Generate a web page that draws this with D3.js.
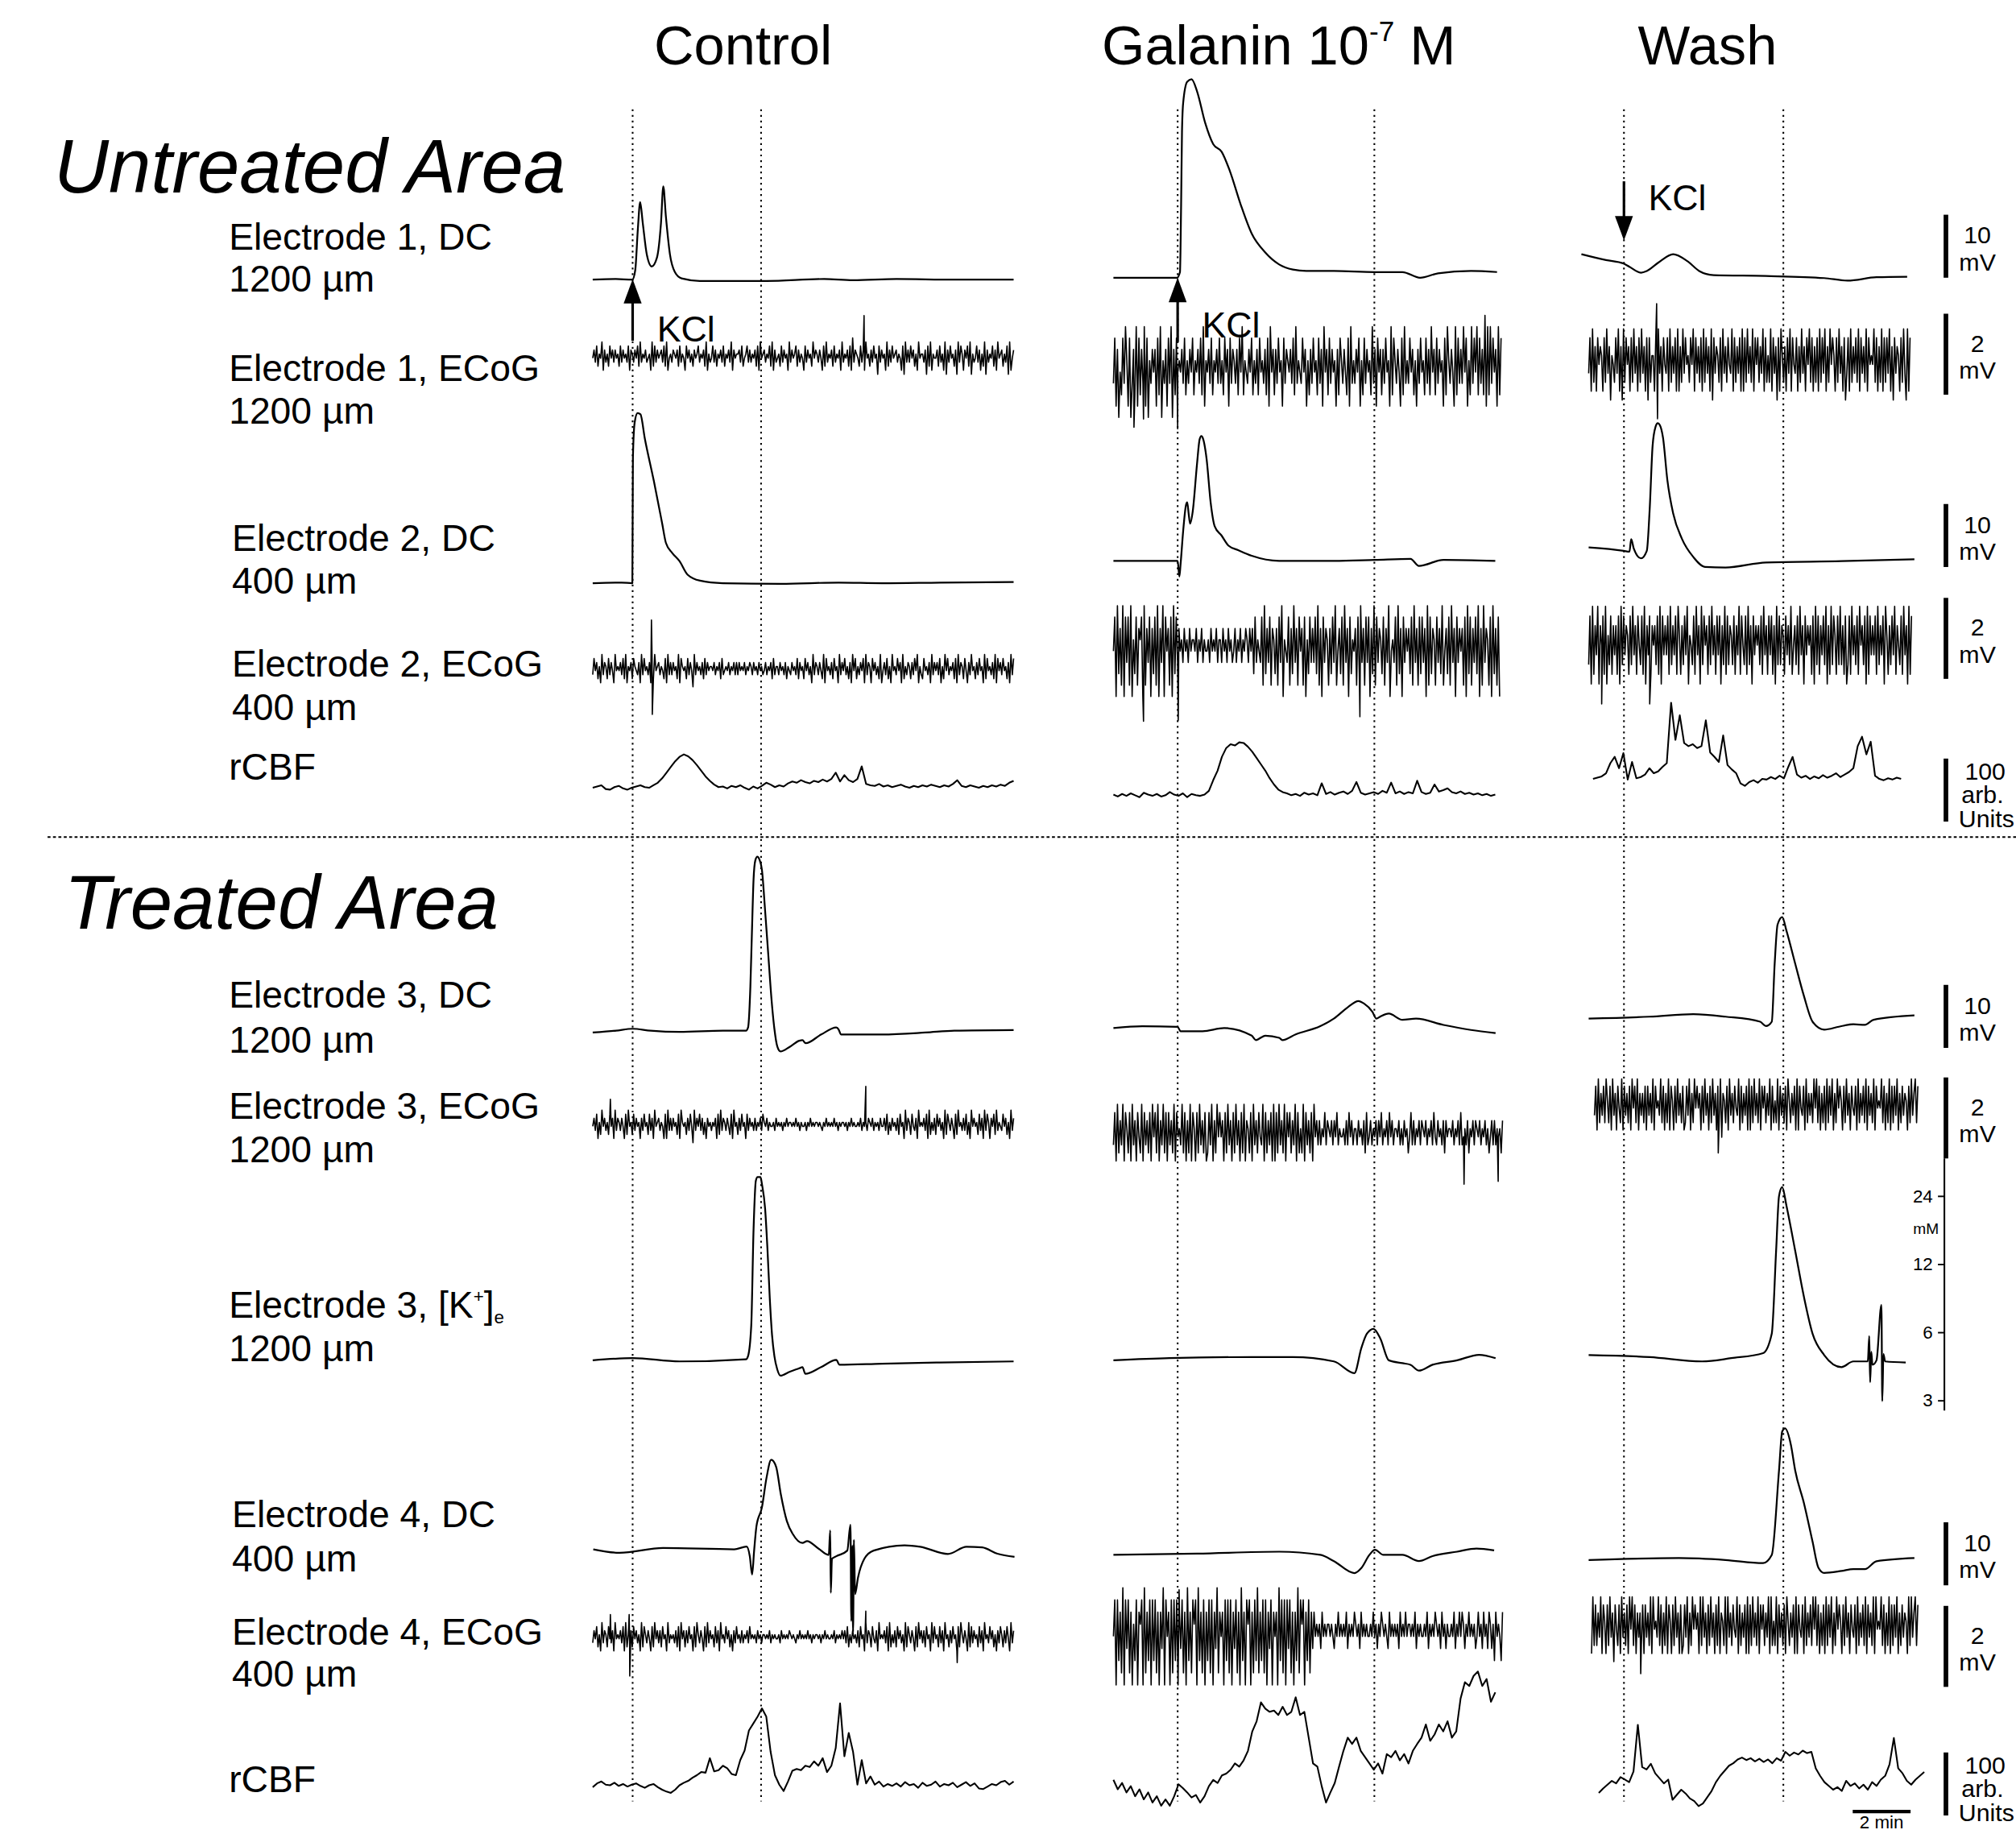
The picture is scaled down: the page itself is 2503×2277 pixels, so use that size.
<!DOCTYPE html>
<html>
<head>
<meta charset="utf-8">
<script src="https://cdn.jsdelivr.net/npm/d3@7"></script>
<style>
  body { margin: 0; background: #fff; }
  text { font-family: "Liberation Sans", Arial, Helvetica, sans-serif; fill: #000; }
</style>
</head>
<body>
<div id="chart"></div>
<script>
var width = 2503;
var height = 2277;
var K = width / 1568;   // layout below is written on a 1568-wide grid

// ---------------- data ----------------
// time in minutes from the left edge of each column; DC in mV; ECoG as digit strings
// (digit - 4.5) * gain mV; rCBF in arb. units; [K+]e in mM

var kclTimes = [1.38, 2.22, 1.47];
var sdTimes = [5.82, 9.02, 6.98];

var e1dcControl = [[0,0],[0.8,0.1],[1.37,0],[1.47,1.5],[1.56,8],[1.64,12.3],[1.73,9],[1.87,4],[2.04,2.1],[2.22,3.5],[2.36,9],[2.44,14.8],[2.53,10],[2.67,4],[2.84,1.2],[3.07,0.2],[3.7,-0.2],[6,-0.2],[8,0.1],[9,-0.1],[10.5,0.1],[12.5,0],[14.55,0]];
var e1dcGalanin = [[0,0],[2.2,0],[2.3,0.9],[2.34,11.6],[2.37,23.1],[2.41,27.7],[2.55,31.1],[2.7,31.5],[2.89,29.6],[3.17,24.6],[3.45,21.2],[3.74,20],[4.02,17],[4.4,11.6],[4.78,7],[5.25,4],[5.73,2.1],[6.2,1.3],[6.67,1.07],[7.62,1.07],[9.04,0.9],[9.99,0.9],[10.6,0],[11.22,0.7],[12.36,1.07],[13.26,0.9]];
var e1dcWash = [[0,3.6],[0.85,2.66],[1.46,2.1],[1.66,1.6],[2.06,0.66],[2.26,0.93],[2.66,2.26],[3.17,3.59],[3.67,2.46],[4.07,0.93],[4.57,0.27],[6.38,0.13],[8.39,-0.2],[9.2,-0.6],[10.2,-0.07],[11.26,0]];

var e2dcControl = [[0,0],[1.0,0.1],[1.37,0],[1.39,20],[1.45,25.5],[1.55,27],[1.65,26.8],[1.8,23],[2.11,16.3],[2.4,9.5],[2.53,6.4],[2.75,4.8],[3.0,3.5],[3.28,1.35],[3.71,0.4],[4.5,0],[6.5,-0.1],[8.5,0.1],[10,0],[12,0.1],[14.55,0.2]];
var e2dcGalanin = [[0,0],[2.22,0],[2.28,-2.5],[2.32,-0.6],[2.41,4.7],[2.51,8.9],[2.55,9.3],[2.6,7.5],[2.65,5.9],[2.74,7.8],[2.89,15.4],[2.98,19.3],[3.04,19.8],[3.08,19.6],[3.22,16.2],[3.36,9.3],[3.5,5.5],[3.74,4],[3.98,2.4],[4.31,1.7],[4.78,0.8],[5.73,0],[7.62,0],[9.04,0.15],[10.27,0.3],[10.56,-0.8],[11.41,0.15],[13.2,0]];
var e2dcWash = [[0.25,1.9],[1.46,1.35],[1.66,1.2],[1.72,3.2],[1.81,1.7],[2.06,0.15],[2.26,1.35],[2.36,8],[2.46,18],[2.56,21],[2.64,21.6],[2.71,21.3],[2.82,19.3],[2.97,12.6],[3.17,7.3],[3.47,3.3],[3.87,0.35],[4.27,-1.2],[4.98,-1.3],[6.38,-0.5],[8.99,-0.3],[11.51,0]];

var e3dcControl = [[0,-0.3],[0.8,0],[1.38,0.3],[2,0],[3,-0.2],[4.5,0],[5.3,0],[5.37,0.5],[5.45,7],[5.5,15],[5.56,24],[5.62,27],[5.69,27.6],[5.76,27.2],[5.85,25.5],[5.96,19],[6.07,12],[6.18,5],[6.28,0.3],[6.38,-2.5],[6.49,-3.3],[6.8,-2.6],[7.14,-1.6],[7.25,-1.5],[7.36,-2],[7.9,-0.6],[8.42,0.5],[8.5,0.2],[8.58,-0.6],[10,-0.6],[11.5,-0.3],[12.5,0],[14.55,0.1]];
var e3dcGalanin = [[0,0],[1.0,0.3],[2.22,0.2],[2.32,-0.5],[3.08,-0.5],[3.83,0],[4.78,-1.2],[4.92,-1.9],[5.25,-1.2],[5.73,-1.55],[5.84,-1.9],[6.3,-1.0],[7.15,0.3],[7.62,1.5],[8.1,3.3],[8.47,4.3],[8.66,3.9],[8.95,2.6],[9.09,1.5],[9.23,1.85],[9.52,2.3],[9.99,1.3],[10.46,1.5],[11.41,0.5],[12.36,-0.3],[13.21,-0.8]];
var e3dcWash = [[0.25,0],[2.36,0.3],[3.87,0.7],[4.98,0.3],[6.18,-0.5],[6.38,-1.2],[6.58,-0.5],[6.68,8.7],[6.78,14.9],[6.94,16.1],[7.09,13.9],[7.39,8.7],[7.69,3.6],[7.99,-0.5],[8.39,-1.75],[8.9,-1.3],[9.4,-0.9],[9.8,-1.0],[10.1,-0.2],[11.51,0.5]];

var kControl = [[0,4.5],[1.38,4.6],[3,4.45],[5.3,4.55],[5.37,4.7],[5.48,6.4],[5.56,17],[5.64,28],[5.7,29],[5.8,29],[5.85,27],[5.96,21],[6.04,14],[6.12,8.5],[6.2,5.8],[6.28,4.7],[6.38,4.1],[6.49,3.85],[6.8,4.0],[7.14,4.15],[7.25,4.2],[7.35,3.92],[7.9,4.2],[8.42,4.52],[8.53,4.3],[10,4.35],[12,4.4],[14.55,4.45]];
var kGalanin = [[0,4.5],[1.94,4.6],[4.78,4.65],[6.2,4.65],[7.62,4.45],[8.33,3.95],[8.57,5.1],[8.76,5.9],[8.99,6.2],[9.23,5.6],[9.52,4.5],[9.99,4.37],[10.27,4.3],[10.56,4.05],[11.03,4.3],[11.88,4.5],[12.64,4.76],[13.21,4.6]];
var kWash = [[0.25,4.75],[2.36,4.65],[4.17,4.45],[5.18,4.6],[6.28,4.84],[6.58,5.9],[6.73,13.7],[6.83,23.9],[6.94,26.2],[7.09,21.6],[7.39,13.7],[7.69,8.6],[7.99,5.9],[8.39,4.75],[8.99,4.2],[9.4,4.45],[9.9,4.45],[9.95,5.76],[9.98,3.6],[10.02,4.9],[10.06,4.3],[10.2,4.5],[10.37,7.9],[10.4,2.97],[10.44,4.8],[10.5,4.45],[11.21,4.4]];

var e4dcControl = [[0.02,0],[0.93,-0.56],[2.43,0.21],[4.89,0],[5.32,0.43],[5.43,-1.1],[5.51,-4.0],[5.58,-0.2],[5.66,3.66],[5.85,6.67],[6.01,11.4],[6.17,14.2],[6.34,13.1],[6.5,8.8],[6.71,4.5],[6.92,2.4],[7.25,1.0],[7.41,1.3],[7.78,0.2],[8.16,-0.9],[8.21,3.0],[8.23,-6.9],[8.27,-1.5],[8.42,-1.1],[8.8,-0.2],[8.91,3.9],[8.94,-11.4],[8.97,0.6],[9.0,-13.1],[9.03,1.5],[9.07,-7.1],[9.17,-4.5],[9.39,-1.5],[9.71,-0.2],[10.78,0.64],[11.32,0.4],[12.28,-0.74],[12.92,0.4],[13.46,0.3],[13.99,-0.7],[14.58,-1.2]];
var e4dcGalanin = [[0,0],[2.89,0.2],[5.73,0.5],[7.15,0],[7.62,-1.0],[8.33,-2.9],[8.57,-2.1],[8.85,0],[9.04,0.8],[9.33,0],[9.99,0],[10.56,-1.0],[11.03,-0.2],[11.88,0.5],[12.55,1.0],[13.16,0.7]];
var e4dcWash = [[0.25,0],[3.37,0.3],[4.98,0],[6.28,-0.5],[6.58,0.8],[6.83,14.2],[6.94,20.4],[7.04,20.9],[7.24,18.3],[7.39,14.2],[7.69,9.05],[7.99,2.9],[8.19,-1.2],[8.39,-2.06],[8.99,-1.75],[9.4,-1.45],[9.8,-1.45],[10.2,-0.2],[11.51,0.3]];

// ECoG traces
var ecogE1Control = "4637254816 3527463645 2736453716 5364728354 6345182736 4563728145 3654627354 1746352645 7354628153 4736254637 2546381645 5637245736 3546271845 6354728163 4527364518 3645726354 1736452846 5364172835 4627354618 3546271936 5427361845 2637450736 4518263745 6354170836 3746251845 5360728154 4627351806 3745260837 5164728053 4736152806 3547261845 6253708146";
var ecogE1Galanin = "3716042738 5170362817 2638170536 4617280536 1738062745 4637253647 2546372815 4637254637 3527461736 5362748254 3647253627 4536271846 2637451736 5463728354 3746152637 4527361846 2736451627 5364271835 3647152736 4528361746 2637451827 5364172835 3746251637 4527362846 2736451728 5364182736 3847152837 4827362918 2837461827";
var ecogE1Wash = "3718261746 5172836054 2738160827 4617283617 2836170725 5172836174 3718263718 1628374527 4817362718 2736180736 5271836274 3817263718 1728362817 4726381725 2817360718 5261738174 3716283617 4827162718 2738162847 5172836170 3718263728 1736281745 4827162817 2738160736 5172830817";
var ecogE2Control = "3746251836 5273641845 4637281546 2754361837 4536172845 6354271836 3645281754 5273640836 4536273645 5463546273 4546354636 3645463546 5364536453 4635462735 5364536254 3645372645 2746351836 5364281745 3627451836 4735261847 2536471836 5174635281 4637251845 3746182536 5263748153 2745361836 4637152847 3546271836 5274163845 2637451827 4536281746 3745261837";
var ecogE2Galanin = "4708261807 3718052716 5708163706 2718063807 4617082736 4536453645 5463546354 4536454635 5364536453 4635463546 5364627354 3718263716 5261738054 3716283617 4617052736 3728160736 5162738146 2718360725 4617283617 3706281736 5271638045 3718260736 4627183617 2736081726 5173628146 2718360736 4617082716 3728061836 5170826170";
var ecogE2Wash = "2708163806 4718052716 3617082736 5172836174 2718063716 4627180736 3718263718 5162738054 2718360827 4617283617 3706281726 5271638174 2718260736 4627183617 3716082726 5173628146 2718360736 4617082716 3728061827 5172826170 2718362718 4627081736 3718263708 5162738164 2718360817";
var ecogE3Control = "4637152846 3527461836 5364172845 2736451637 4527361845 6354171836 3645271854 5263740836 4736251645 3546172836 5364271845 2637451736 4536354637 5463544536 4545354645 5454645354 4535464545 5454354645 4546453545 5453546454 4546354536 5463545364 4637253645 3627451836 5274361845 4637182536 2746351827 5364172845 3637251846 4527361837 5164728354 3746251836";
var ecogE3Galanin = "3718263817 5271836174 2817362718 4728163827 1736281745 3827162817 5172836271 2738162847 4617283617 2836172816 5271836274 3817263718 1728362817 4726381725 2817362718 4636354736 5463647354 4536374635 5364536273 4635463647 3546374635 5463536452 4736354636 5463546374 3645362645 5463546373 4536254636 5463546352 4636354526";
var ecogE3Wash = "3718263728 5271836174 2817362718 4728163627 1736281745 3827162817 5172836271 2738162847 4617283617 2836172806 5271836274 3817263718 1728362817 4726381725 2817362718 5263718174 3718263628 4827162718 2738162847 5172836174 3718263728 1736281745 4827162817 2738162736 5172836827";
var ecogE4Control = "3647251836 5274361845 4637182536 2746351827 5364172846 3627451835 4536271846 2637451728 5364172836 4527361845 3746251637 4536354637 4545364535 5454635454 4536454546 5454354645 4546453545 5453546454 4546354546 4637253645 3627451836 5274361845 4637182536 2746351827 5364172846 3627451837 4527361845 2637451728 5364182736 4527361845 3746251637 5263741836";
var ecogE4Galanin = "4707261807 3716052706 5708162707 2716063807 4607172706 3716082617 5708261706 2717063816 4607271706 3716082607 5706172816 2717063706 4608271707 3716062817 5706271636 4545364545 5454354645 4546354546 5453645454 4546453546 5454364545 4536454645 5454635454 4546354546 5453645354 4546354646 5354645453 4645364536 5352645426";
var ecogE4Wash = "1827263817 5172836074 2718362718 4827163627 1736281845 3827162817 5172836171 2738162847 4618283617 2836172816 5281836274 3817263718 1728362817 4726381825 2817362718 5263718174 3718263728 4827162718 2738162847 5172836174 3718263728 1736281845 4827162817 2738162736 5182836827";

var ecogSpans = [[[0,14.55],[0,13.4],[0.25,11.36]], [[0,14.55],[0,13.35],[0.25,11.41]], [[0,14.55],[0,13.45],[0.45,11.63]], [[0,14.55],[0,13.45],[0.35,11.63]]];
var ecogGain = [[0.1,0.28,0.22], [0.1,0.28,0.24], [0.1,0.2,0.18], [0.1,0.3,0.2]];
var ecogSpikes = [
  [[[9.38,1.0]], [[0.71,-1.5],[1.04,-1.3],[2.22,-1.54]], [[2.6,1.39],[2.63,-1.45]]],
  [[[2.03,1.2],[2.06,-1.13]], [[1.04,-1.87],[2.24,-1.85],[8.52,-1.76]], [[0.7,-1.57],[2.36,-1.57]]],
  [[[0.61,0.62],[9.44,0.94]], [[12.12,-1.27],[13.3,-1.2]], [[4.73,-1.2]]],
  [[[0.61,0.55],[1.26,0.55],[1.28,-0.97],[9.44,0.63],[12.6,-0.64]], [[2.27,1.0]], [[2.05,-1.2]]]
];

// rCBF, sampled every 0.15 min
var cbfDt = 0.15;
var cbfUntreatedControl = [0,2,4,-2,-3,1,3,-1,-3,0, 2,4,1,0,4,8,15,24,33,42, 49,53,50,44,36,27,18,11,5,1, 2,-1,3,1,4,0,-3,2,-1,3, 8,5,1,4,2,7,10,8,12,9, 7,11,9,13,10,14,24,10,20,12, 9,14,34,6,4,3,6,2,4,1, 3,5,2,0,3,1,4,2,5,3, 1,4,2,6,12,3,1,4,2,0, 3,1,4,2,5,3,8,11];
var cbfUntreatedGalanin = [2,-1,3,0,4,1,-2,5,2,0, 3,-1,1,6,2,0,4,-2,3,1, 0,2,8,25,40,62,76,82,80,85, 84,78,70,60,50,40,28,18,10,6, 4,1,3,0,5,2,4,1,20,3, 6,2,5,7,3,8,22,5,2,4, 6,3,8,5,21,4,7,3,6,4, 24,6,3,5,18,7,9,12,6,4, 7,3,5,2,4,1,3,0,2];
var cbfUntreatedWash = [3,5,7,12,28,38,20,44,2,30, 4,6,10,20,12,15,22,28,124,65, 104,60,55,58,52,55,96,45,38,30, 72,25,18,12,-4,-8,-2,1,-3,3, 2,6,3,8,4,22,38,10,5,8, 3,7,4,9,5,8,12,6,10,14, 20,55,70,42,62,8,3,1,4,2, 5,3];
var cbfTreatedControl = [0,6,9,4,3,7,2,5,1,4, 6,2,-1,3,5,0,-4,-7,-9,-4, 3,7,10,15,19,24,23,46,25,27, 34,30,21,19,43,58,90,101,112,125, 112,56,19,4,-6,9,26,29,27,34, 32,41,34,46,24,34,62,133,49,86, 56,4,43,6,17,4,9,1,5,2, 6,1,8,3,5,-1,7,2,4,9, 1,5,3,7,0,4,8,2,6,-2, -3,1,5,3,8,10,4,9];
var cbfTreatedGalanin = [32,17,27,12,22,6,17,1,12,-4, 6,-9,1,-9,6,25,19,12,4,8, -4,6,22,32,27,39,42,48,58,53, 63,78,109,125,155,145,140,142,135,148, 135,140,163,135,140,99,58,53,22,-4, 12,27,53,78,99,89,99,78,68,58, 48,58,42,73,68,78,63,73,58,78, 89,99,120,94,104,120,109,125,99,109, 161,187,181,197,204,181,192,156,171];
var cbfTreatedWash = [-9,-2,4,10,6,16,12,8,25,99, 32,28,37,22,14,6,12,-20,-12,-4, -10,-18,-22,-30,-26,-16,-6,8,18,26, 34,38,44,47,43,46,41,45,40,44, 38,46,42,56,50,55,52,58,54,56, 30,18,8,2,-4,0,-6,10,2,6, -2,4,-4,8,2,12,18,36,78,30, 22,10,4,12,18,24];
var cbfStart = [[0,0,0.4],[0,0,0.6]];

var kTicks = [3, 6, 12, 24];

// ---------------- layout (1568-wide grid) ----------------
var colX = [461, 866, 1230];
var pxPerMin = 22.5;
var mvPx = 4.9, ecogPx = 31.5, cbfPx = 0.49;
var dcBase = [[217.5,216,215.3],[453.6,436.2,435],[801.6,799.6,792.2],[1205,1209.3,1213.3]];
var ecogCenter = [[277,285,280],[520,502,498],[874.5,881,859],[1273,1268,1264]];
var cbfBase = [[612.7,619,607.3],[1390,1400,1390]];

var svg = d3.select("#chart").append("svg")
  .attr("width", width)
  .attr("height", height);

svg.append("rect").attr("width", width).attr("height", height).attr("fill", "#fff");

var canvas = svg.append("g").attr("transform", "scale(" + K + ")");

var xScales = colX.map(function(x0) {
  return d3.scaleLinear().domain([0, 2]).range([x0, x0 + 2 * pxPerMin]);
});

var kScale = d3.scaleLog().domain([3, 24]).range([1089, 930]);

// dotted event lines
for (var c = 0; c < 3; c++) {
  var evTimes = [kclTimes[c], sdTimes[c]];
  for (var e = 0; e < evTimes.length; e++) {
    canvas.append("line")
      .attr("x1", xScales[c](evTimes[e])).attr("x2", xScales[c](evTimes[e]))
      .attr("y1", 85).attr("y2", 1401)
      .attr("stroke", "#000")
      .attr("stroke-width", 1.3)
      .attr("stroke-dasharray", "1.4,3");
  }
}

// dashed separator
canvas.append("line")
  .attr("x1", 37).attr("x2", 1568).attr("y1", 651).attr("y2", 651)
  .attr("stroke", "#000").attr("stroke-width", 1.2).attr("stroke-dasharray", "2.3,1.9");

function drawPath(pts, x, y, curve, sw) {
  var line = d3.line()
    .x(function(d) { return x(d[0]); })
    .y(function(d) { return y(d[1]); })
    .curve(curve);
  canvas.append("path")
    .attr("d", line(pts))
    .attr("fill", "none")
    .attr("stroke", "#000")
    .attr("stroke-width", sw)
    .attr("stroke-linejoin", "round");
}

// DC traces
var dcData = [
  [e1dcControl, e1dcGalanin, e1dcWash],
  [e2dcControl, e2dcGalanin, e2dcWash],
  [e3dcControl, e3dcGalanin, e3dcWash],
  [e4dcControl, e4dcGalanin, e4dcWash]
];
var dcScales = dcBase.map(function(row) {
  return row.map(function(b) { return d3.scaleLinear().domain([0, 10]).range([b, b - 10 * mvPx]); });
});
dcData.forEach(function(row, r) {
  row.forEach(function(pts, c) {
    drawPath(pts, xScales[c], dcScales[r][c], d3.curveMonotoneX, 1.4);
  });
});

// [K+]e traces
var kData = [kControl, kGalanin, kWash];
kData.forEach(function(pts, c) {
  drawPath(pts, xScales[c], kScale, d3.curveMonotoneX, 1.4);
});

// ECoG traces
var ecogData = [
  [ecogE1Control, ecogE1Galanin, ecogE1Wash],
  [ecogE2Control, ecogE2Galanin, ecogE2Wash],
  [ecogE3Control, ecogE3Galanin, ecogE3Wash],
  [ecogE4Control, ecogE4Galanin, ecogE4Wash]
];
var ecogScales = ecogCenter.map(function(row) {
  return row.map(function(b) { return d3.scaleLinear().domain([0, 2]).range([b, b - 2 * ecogPx]); });
});
function ecogPoints(str, span, gain, spikes) {
  var s = str.replace(/\s/g, "");
  var n = s.length;
  var pts = [];
  for (var i = 0; i < n; i++) {
    pts.push([span[0] + (span[1] - span[0]) * i / (n - 1), (+s[i] - 4.5) * gain]);
  }
  spikes.forEach(function(p) { pts.push(p); });
  pts.sort(function(a, b) { return a[0] - b[0]; });
  return pts;
}
ecogData.forEach(function(row, r) {
  row.forEach(function(str, c) {
    var pts = ecogPoints(str, ecogSpans[r][c], ecogGain[r][c], ecogSpikes[r][c]);
    drawPath(pts, xScales[c], ecogScales[r][c], d3.curveLinear, 1.0);
  });
});

// rCBF traces
var cbfData = [
  [cbfUntreatedControl, cbfUntreatedGalanin, cbfUntreatedWash],
  [cbfTreatedControl, cbfTreatedGalanin, cbfTreatedWash]
];
var cbfScales = cbfBase.map(function(row) {
  return row.map(function(b) { return d3.scaleLinear().domain([0, 100]).range([b, b - 100 * cbfPx]); });
});
cbfData.forEach(function(row, r) {
  row.forEach(function(vals, c) {
    var pts = vals.map(function(v, i) { return [cbfStart[r][c] + i * cbfDt, v]; });
    drawPath(pts, xScales[c], cbfScales[r][c], d3.curveLinear, 1.3);
  });
});

// KCl arrows
function arrow(x, tipY, tailY) {
  var dir = tailY > tipY ? 1 : -1;
  canvas.append("line")
    .attr("x1", x).attr("x2", x)
    .attr("y1", tailY).attr("y2", tipY + dir * 12)
    .attr("stroke", "#000").attr("stroke-width", 2);
  canvas.append("path")
    .attr("d", "M" + x + "," + tipY + "L" + (x - 7) + "," + (tipY + dir * 19) +
      "L" + (x + 7) + "," + (tipY + dir * 19) + "Z")
    .attr("fill", "#000");
}
arrow(xScales[0](kclTimes[0]), 217, 265);
arrow(xScales[1](kclTimes[1]), 216, 266);
arrow(xScales[2](kclTimes[2]), 187, 141);

var kclLabels = [[511, 265.5], [935, 262.5], [1282, 163.5]];
kclLabels.forEach(function(p) {
  canvas.append("text").attr("x", p[0]).attr("y", p[1])
    .attr("font-size", 28).text("KCl");
});

// column titles
canvas.append("text").attr("x", 578).attr("y", 50).attr("text-anchor", "middle")
  .attr("font-size", 43).text("Control");
var gal = canvas.append("text").attr("x", 857).attr("y", 50).attr("font-size", 43);
gal.append("tspan").text("Galanin 10");
gal.append("tspan").attr("font-size", 22).attr("dy", -18).text("-7");
gal.append("tspan").attr("dy", 18).text(" M");
canvas.append("text").attr("x", 1328).attr("y", 50).attr("text-anchor", "middle")
  .attr("font-size", 43).text("Wash");

// area titles
canvas.append("text").attr("x", 42).attr("y", 150).attr("font-size", 59)
  .attr("font-style", "italic").text("Untreated Area");
canvas.append("text").attr("x", 50).attr("y", 722).attr("font-size", 59)
  .attr("font-style", "italic").text("Treated Area");

// row labels
var rowLabels = [
  ["Electrode 1, DC", "1200 µm"], ["Electrode 1, ECoG", "1200 µm"],
  ["Electrode 2, DC", "400 µm"], ["Electrode 2, ECoG", "400 µm"], ["rCBF"],
  ["Electrode 3, DC", "1200 µm"], ["Electrode 3, ECoG", "1200 µm"],
  ["Electrode 3, [K", "1200 µm"], ["Electrode 4, DC", "400 µm"],
  ["Electrode 4, ECoG", "400 µm"], ["rCBF"]
];
var labelPos = [[178,194,226.5],[178,296.5,329.5],[180.5,428.5,461.5],[180.5,526,560],[178,606.5],
  [178,784,819],[178,870,904],[178,1025,1058.5],[180.5,1188,1222],[180.5,1279,1312],[178,1394]];
rowLabels.forEach(function(lab, i) {
  var p = labelPos[i];
  var t1 = canvas.append("text").attr("x", p[0]).attr("y", p[1]).attr("font-size", 29);
  t1.append("tspan").text(lab[0]);
  if (lab[0] === "Electrode 3, [K") {
    t1.append("tspan").attr("font-size", 14).attr("dy", -12).text("+");
    t1.append("tspan").attr("dy", 12).text("]");
    t1.append("tspan").attr("font-size", 14).attr("dy", 4).text("e");
  }
  if (lab[1]) {
    canvas.append("text").attr("x", p[0]).attr("y", p[2]).attr("font-size", 29).text(lab[1]);
  }
});

// scale bars (lengths from the row scales)
var barX = 1513.5;
var bars = [
  {top: 167, len: dcScales[0][2](0) - dcScales[0][2](10), lab: ["10", "mV"]},
  {top: 244, len: ecogScales[0][2](0) - ecogScales[0][2](2), lab: ["2", "mV"]},
  {top: 392, len: dcScales[1][2](0) - dcScales[1][2](10), lab: ["10", "mV"]},
  {top: 465, len: ecogScales[1][2](0) - ecogScales[1][2](2), lab: ["2", "mV"]},
  {top: 590, len: cbfScales[0][2](0) - cbfScales[0][2](100), lab: ["100", "arb.", "Units"]},
  {top: 766, len: dcScales[2][2](0) - dcScales[2][2](10), lab: ["10", "mV"]},
  {top: 838, len: ecogScales[2][2](0) - ecogScales[2][2](2), lab: ["2", "mV"]},
  {top: 1184, len: dcScales[3][2](0) - dcScales[3][2](10), lab: ["10", "mV"]},
  {top: 1249, len: ecogScales[3][2](0) - ecogScales[3][2](2), lab: ["2", "mV"]},
  {top: 1363, len: cbfScales[1][2](0) - cbfScales[1][2](100), lab: ["100", "arb.", "Units"]}
];
bars.forEach(function(b) {
  canvas.append("line")
    .attr("x1", barX).attr("x2", barX)
    .attr("y1", b.top).attr("y2", b.top + b.len)
    .attr("stroke", "#000").attr("stroke-width", 3.6);
  var mid = b.top + b.len / 2;
  if (b.lab.length === 2) {
    canvas.append("text").attr("x", 1538).attr("y", mid - 2).attr("text-anchor", "middle")
      .attr("font-size", 19).text(b.lab[0]);
    canvas.append("text").attr("x", 1538).attr("y", mid + 19).attr("text-anchor", "middle")
      .attr("font-size", 19).text(b.lab[1]);
  } else {
    canvas.append("text").attr("x", 1544).attr("y", mid - 8).attr("text-anchor", "middle")
      .attr("font-size", 19).text(b.lab[0]);
    canvas.append("text").attr("x", 1542).attr("y", mid + 10).attr("text-anchor", "middle")
      .attr("font-size", 19).text(b.lab[1]);
    canvas.append("text").attr("x", 1545).attr("y", mid + 29).attr("text-anchor", "middle")
      .attr("font-size", 19).text(b.lab[2]);
  }
});

// [K+]e axis
var kBar = bars[6];
canvas.append("line")
  .attr("x1", barX - 1.2).attr("x2", barX - 1.2)
  .attr("y1", kBar.top + kBar.len).attr("y2", 1097)
  .attr("stroke", "#000").attr("stroke-width", 1.3);
var kAxis = canvas.append("g")
  .attr("transform", "translate(" + (barX - 1.2) + ",0)")
  .call(d3.axisLeft(kScale).tickValues(kTicks).tickFormat(d3.format("d")).tickSize(5).tickSizeOuter(0));
kAxis.select(".domain").remove();
kAxis.selectAll("text").attr("font-size", 14).attr("font-family", null).attr("dx", "-1");
kAxis.selectAll("line").attr("stroke-width", 1.2);
canvas.append("text").attr("x", 1498).attr("y", 960).attr("text-anchor", "middle")
  .attr("font-size", 12).text("mM");

// time bar
var tb = xScales[2];
var tbX0 = 1441;
canvas.append("line")
  .attr("x1", tbX0).attr("x2", tbX0 + (tb(2) - tb(0)))
  .attr("y1", 1409).attr("y2", 1409)
  .attr("stroke", "#000").attr("stroke-width", 2.6);
canvas.append("text").attr("x", tbX0 + (tb(2) - tb(0)) / 2).attr("y", 1422)
  .attr("text-anchor", "middle").attr("font-size", 14).text("2 min");
</script>
</body>
</html>
